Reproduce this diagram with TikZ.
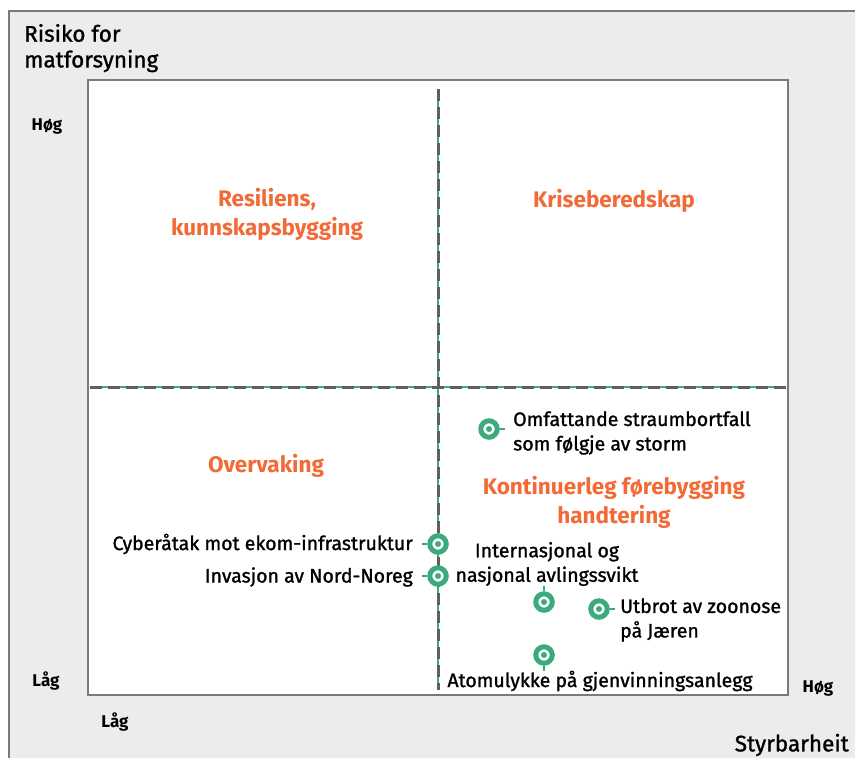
\documentclass[tikz,border=0pt]{standalone}
\usepackage{fontspec}
\setmainfont{Fira Sans}
\newfontfamily\medfont{Fira Sans}[FakeBold=1.2]
\definecolor{bgray}{HTML}{ECECEC}
\definecolor{frame}{HTML}{7A7A7A}
\definecolor{dashgray}{HTML}{5F5F5F}
\definecolor{orng}{HTML}{F26A36}
\definecolor{grn}{HTML}{3BAA7C}
\begin{document}
\begin{tikzpicture}[x=1pt,y=-1pt,
  lbl/.style={font=\medfont\fontsize{19.5}{24.5}\selectfont,inner sep=0pt},
  axl/.style={font=\bfseries\fontsize{17}{20}\selectfont,inner sep=0pt},
  ttl/.style={font=\medfont\fontsize{22.5}{26}\selectfont,inner sep=0pt},
  quad/.style={font=\bfseries\fontsize{22.5}{29}\selectfont,text=orng,inner sep=0pt,align=center},
  mk/.style={circle,draw=grn,fill=white,line width=5pt,minimum size=16.5pt,inner sep=0pt},
  tick/.style={draw=grn,line width=1.8pt},
]
\useasboundingbox (0,0) rectangle (855,758);
% outer background
\fill[bgray] (9,11) rectangle (855,758);
\draw[frame,line width=2pt] (9,758) -- (9,11) -- (855,11);
% inner box
\node[draw=frame,line width=2.2pt,fill=white,minimum width=700pt,minimum height=615pt,inner sep=0pt] (box) at (438,387.5) {};
% dividers
\coordinate (vt) at (438,89);
\coordinate (vb) at (438,690);
\coordinate (hl) at (90,387);
\coordinate (hr) at (786,387);
\draw[grn,line width=1.1pt] (vt) -- (vb);
\draw[grn,line width=1.1pt] (hl) -- (hr);
\draw[dashgray,line width=3pt,dash pattern=on 12pt off 6pt] (vt) -- (vb);
\draw[dashgray,line width=3pt,dash pattern=on 12pt off 6pt] (hl) -- (hr);
% titles
\node[ttl,anchor=west] (t1) at (24,33) {Risiko for};
\node[ttl,anchor=west] (t2) at (24,61) {matforsyning};
\node[ttl,anchor=east] (sty) at (849,745) {Styrbarheit};
\node[axl] (hy) at (47,126) {Høg};
\node[axl] (ly) at (46,681) {Låg};
\node[axl] (lx) at (115,722) {Låg};
\node[axl] (hx) at (818,688) {Høg};
% quadrant labels
\node[quad] (q1) at (267,214) {Resiliens,\\kunnskapsbygging};
\node[quad] (q2) at (614,201) {Kriseberedskap};
\node[quad] (q3) at (266,466) {Overvaking};
\node[quad] (q4) at (614,502) {Kontinuerleg førebygging\\handtering};
% markers
\node[mk] (m1) at (489,429) {};
\node[mk] (m2) at (438,544) {};
\node[mk] (m3) at (438,576) {};
\node[mk] (m4) at (544,602) {};
\node[mk] (m5) at (599,609) {};
\node[mk] (m6) at (544,655) {};
\foreach \m in {m1,m2,m3,m4,m5,m6}{\fill[grn] (\m) circle (3pt);}
\draw[tick] (m1.east) -- ++(5,0);
\draw[tick] (m2.west) -- ++(-5,0);
\draw[tick] (m3.west) -- ++(-5,0);
\draw[tick] (m4.north) -- ++(0,-5);
\draw[tick] (m5.east) -- ++(5,0);
\draw[tick] (m6.south) -- ++(0,5);
% labels
\node[lbl,anchor=west,align=left] (l1) at (513,433) {Omfattande straumbortfall\\som følgje av storm};
\node[lbl,anchor=east] (l2) at (413,544) {Cyberåtak mot ekom-infrastruktur};
\node[lbl,anchor=east] (l3) at (413,577) {Invasjon av Nord-Noreg};
\node[lbl,align=center] (l4) at (547,564) {Internasjonal og\\nasjonal avlingssvikt};
\node[lbl,anchor=west,align=left] (l5) at (620,620) {Utbrot av zoonose\\på Jæren};
\node[lbl] (l6) at (600,681) {Atomulykke på gjenvinningsanlegg};
\end{tikzpicture}
\end{document}
